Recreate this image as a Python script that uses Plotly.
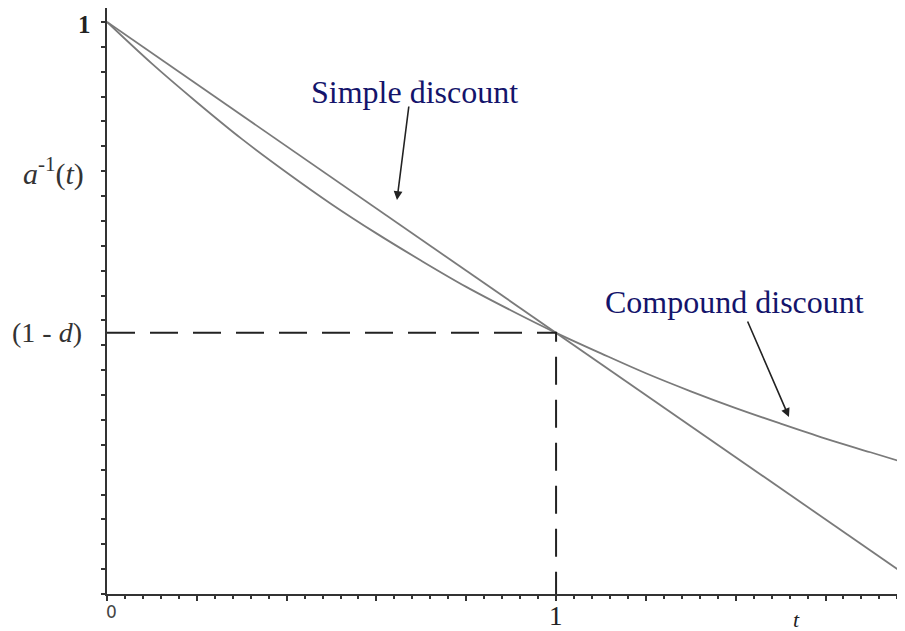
import plotly.graph_objects as go

# --- values ---
t_simple = [0.0, 1.0, 1.777]
v_simple = [1.0, 0.5, 0.1115]

t_compound = [0.0, 0.1, 0.2, 0.3, 0.4, 0.5, 0.6, 0.7, 0.8, 0.9, 1.0,
              1.1, 1.2, 1.3, 1.4, 1.5, 1.6, 1.7, 1.777]
v_compound = [1.0, 0.933, 0.871, 0.812, 0.758, 0.707, 0.660, 0.616, 0.574, 0.536, 0.5,
              0.467, 0.435, 0.406, 0.379, 0.354, 0.330, 0.308, 0.291]

# guide lines at t = 1, a^-1 = (1 - d)
t_guide = [0.0, 1.0, 1.0]
v_guide = [0.5, 0.5, 0.08]

curve_color = "#7a7a7a"
text_blue = "#14146b"
serif = "Liberation Serif, Times New Roman, serif"

fig = go.Figure()

fig.add_trace(go.Scatter(x=t_simple, y=v_simple, mode="lines",
                         line=dict(color=curve_color, width=1.8)))
fig.add_trace(go.Scatter(x=t_compound, y=v_compound, mode="lines",
                         line=dict(color=curve_color, width=1.8, shape="spline")))
fig.add_trace(go.Scatter(x=t_guide, y=v_guide, mode="lines",
                         line=dict(color="#222222", width=2, dash="28px,15px")))

annotations = [
    # curve labels
    dict(x=0.6858, y=0.8874, text="Simple discount", showarrow=False,
         font=dict(family=serif, size=32, color=text_blue)),
    dict(x=1.398, y=0.5497, text="Compound discount", showarrow=False,
         font=dict(family=serif, size=32, color=text_blue)),
    # arrows
    dict(x=0.6457, y=0.7137, ax=0.6725, ay=0.8665, axref="x", ayref="y",
         showarrow=True, arrowhead=2, arrowsize=1.1, arrowwidth=1.6,
         arrowcolor="#222222", text=""),
    dict(x=1.5186, y=0.3647, ax=1.4251, ay=0.5207, axref="x", ayref="y",
         showarrow=True, arrowhead=2, arrowsize=1.1, arrowwidth=1.6,
         arrowcolor="#222222", text=""),
    # y-axis labels
    dict(x=0, y=1.0, xref="x", yref="y", xanchor="right", xshift=-14, yshift=-3,
         text="<b>1</b>", showarrow=False,
         font=dict(family=serif, size=25, color="#222222")),
    dict(x=0, y=0.7588, xref="x", yref="y", xanchor="right", xshift=-21,
         text="<i>a</i><sup>-1</sup>(<i>t</i>)", showarrow=False,
         font=dict(family=serif, size=30, color="#333333")),
    dict(x=0, y=0.5, xref="x", yref="y", xanchor="right", xshift=-23,
         text="(1 - <i>d</i>)", showarrow=False,
         font=dict(family=serif, size=28, color="#333333")),
    # x-axis labels
    dict(x=0.0089, y=0, xref="x", yref="paper", yanchor="top", yshift=-6,
         text="0", showarrow=False,
         font=dict(family="DejaVu Sans, sans-serif", size=17, color="#444444")),
    dict(x=1.0, y=0, xref="x", yref="paper", yanchor="top", yshift=-5,
         text="1", showarrow=False,
         font=dict(family=serif, size=27, color="#222222")),
    dict(x=1.5364, y=0, xref="x", yref="paper", yanchor="top", yshift=-11,
         text="<i>t</i>", showarrow=False,
         font=dict(family=serif, size=22, color="#222222")),
]

# the page body has an 8px margin, so the figure is sized to fit the window
fig.update_layout(
    width=897, height=623,
    margin=dict(l=99, r=0, t=0, b=37),
    paper_bgcolor="white", plot_bgcolor="white",
    showlegend=False,
    annotations=annotations,
    xaxis=dict(range=[0, 1.777], showgrid=False, zeroline=False,
               showline=True, linecolor="#333333", linewidth=2,
               ticks="outside", tick0=0, dtick=0.2, ticklen=5, tickwidth=2,
               tickcolor="#333333", showticklabels=False,
               minor=dict(ticks="outside", dtick=0.04, ticklen=3, tickwidth=1.5,
                          tickcolor="#333333", showgrid=False)),
    yaxis=dict(range=[0.08, 1.0225], showgrid=False, zeroline=False,
               showline=True, linecolor="#333333", linewidth=2,
               ticks="outside", tick0=0.08, dtick=0.04, ticklen=4, tickwidth=2,
               tickcolor="#333333", showticklabels=False),
)

fig.write_html("out.html")
